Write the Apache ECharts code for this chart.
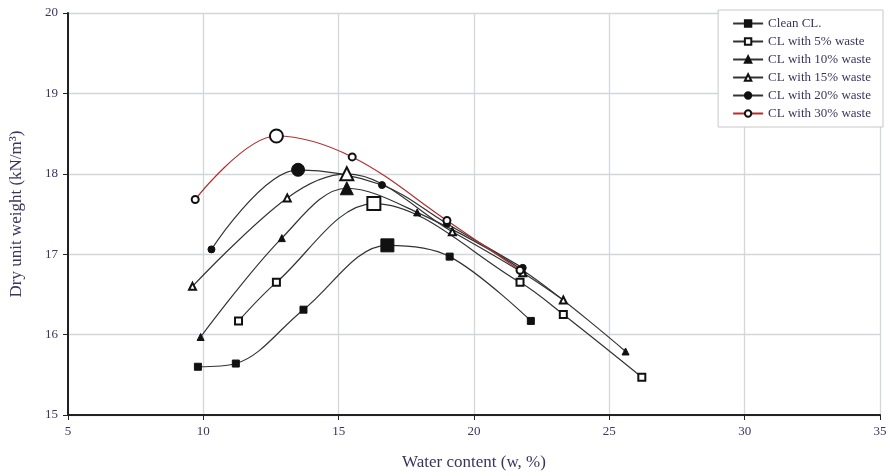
<!DOCTYPE html>
<html>
<head>
<meta charset="utf-8">
<script src="https://cdn.jsdelivr.net/npm/echarts@6/dist/echarts.min.js"></script>
<style>
html,body{margin:0;padding:0;background:#fff;}
#chart{width:890px;height:476px;}
</style>
</head>
<body>
<div id="chart"></div>
<script>
var seriesNames = ["Clean CL.", "CL with 5% waste", "CL with 10% waste", "CL with 15% waste", "CL with 20% waste", "CL with 30% waste"];
var clean = [[9.8,15.60],[11.2,15.64],[13.7,16.31],[16.8,17.11],[19.1,16.97],[22.1,16.17]];
var waste5 = [[11.3,16.17],[12.7,16.65],[16.3,17.63],[21.7,16.65],[23.3,16.25],[26.2,15.47]];
var waste10 = [[9.9,15.97],[12.9,17.20],[15.3,17.82],[17.9,17.52],[21.8,16.80],[25.6,15.79]];
var waste15 = [[9.6,16.60],[13.1,17.70],[15.3,18.00],[19.2,17.28],[21.8,16.77],[23.3,16.43]];
var waste20 = [[10.3,17.06],[13.5,18.05],[16.6,17.86],[19.0,17.38],[21.8,16.83]];
var waste30 = [[9.7,17.68],[12.7,18.47],[15.5,18.21],[19.0,17.42],[21.7,16.80]];
var xTicks = [5,10,15,20,25,30,35];
var yTicks = [15,16,17,18,19,20];

var allData = [clean, waste5, waste10, waste15, waste20, waste30];
var symbols = ["rect","emptyRect","triangle","emptyTriangle","circle","emptyCircle"];
var lineColors = ["#333","#333","#333","#333","#333","#b03030"];
var textColor = "#3a3560";
var font = "Liberation Serif";

function mkSeries(i){
  var d = allData[i];
  var maxY = Math.max.apply(null, d.map(function(p){return p[1];}));
  return {
    name: seriesNames[i],
    type: "line",
    smooth: 0.35,
    data: d,
    symbol: symbols[i],
    symbolSize: function(v){ return v[1] === maxY ? 13 : 7; },
    lineStyle: {color: lineColors[i], width: 1.2},
    itemStyle: {color: "#111", borderColor: "#111", borderWidth: 1},
    emphasis: {disabled: true},
    z: 3
  };
}

var chart = echarts.init(document.getElementById("chart"), null, {renderer: "canvas"});
chart.setOption({
  animation: false,
  backgroundColor: "#fff",
  grid: {left: 66, right: 10, top: 13, bottom: 60},
  legend: {
    orient: "vertical",
    right: 7,
    top: 10,
    padding: [7, 12, 7, 14],
    itemGap: 5,
    itemWidth: 30,
    itemHeight: 8,
    borderColor: "#c8c8c8",
    borderWidth: 1,
    backgroundColor: "#fff",
    textStyle: {fontFamily: font, fontSize: 13, color: textColor},
    data: seriesNames.map(function(n, i){ return {name: n, itemStyle: {color: "#111"}, lineStyle: {color: lineColors[i]}}; })
  },
  xAxis: {
    type: "value",
    min: xTicks[0],
    max: xTicks[xTicks.length - 1],
    interval: 5,
    name: "Water content (w, %)",
    nameLocation: "middle",
    nameGap: 39,
    nameTextStyle: {fontFamily: font, fontSize: 17, color: textColor},
    axisLine: {show: true, onZero: false, lineStyle: {color: "#222", width: 2}},
    axisTick: {show: true, length: 5, lineStyle: {color: "#222"}},
    axisLabel: {fontFamily: font, fontSize: 13, color: textColor, margin: 10},
    splitLine: {show: true, lineStyle: {color: "#d3d6da", width: 1.3}}
  },
  yAxis: {
    type: "value",
    min: yTicks[0],
    max: yTicks[yTicks.length - 1],
    interval: 1,
    name: "Dry unit weight (kN/m³)",
    nameLocation: "middle",
    nameGap: 43,
    nameRotate: 90,
    nameTextStyle: {fontFamily: font, fontSize: 17, color: textColor},
    axisLine: {show: true, onZero: false, lineStyle: {color: "#222", width: 2}},
    axisTick: {show: true, length: 5, lineStyle: {color: "#222"}},
    axisLabel: {fontFamily: font, fontSize: 13, color: textColor, margin: 10},
    splitLine: {show: true, lineStyle: {color: "#d3d6da", width: 1.3}}
  },
  series: [0,1,2,3,4,5].map(mkSeries)
});
</script>
</body>
</html>
